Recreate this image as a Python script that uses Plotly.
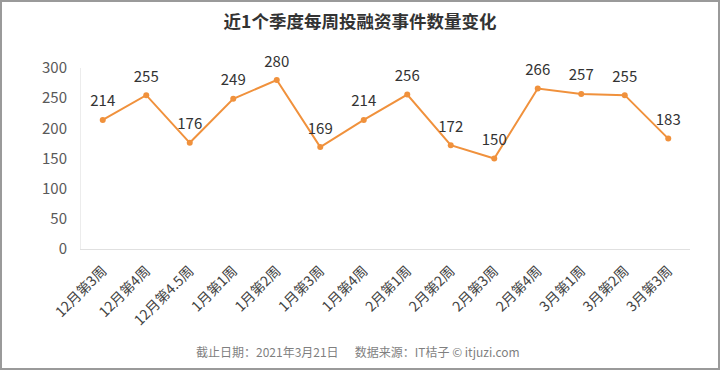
import plotly.graph_objects as go

categories = ["12月第3周", "12月第4周", "12月第4.5周", "1月第1周", "1月第2周", "1月第3周", "1月第4周",
              "2月第1周", "2月第2周", "2月第3周", "2月第4周", "3月第1周", "3月第2周", "3月第3周"]
values = [214, 255, 176, 249, 280, 169, 214, 256, 172, 150, 266, 257, 255, 183]
y_ticks = [0, 50, 100, 150, 200, 250, 300]

W, H = 720, 370
ML, MR, MT, MB = 81, 30, 68, 121
FONT = "Noto Sans CJK SC, Microsoft YaHei, sans-serif"

fig = go.Figure()
fig.add_trace(go.Scatter(
    x=categories, y=values, mode="lines+markers",
    line=dict(color="#F0913C", width=2),
    marker=dict(color="#F0913C", size=6),
    cliponaxis=False, hoverinfo="skip"))
fig.add_trace(go.Scatter(
    x=categories, y=values, mode="markers+text",
    text=[str(v) for v in values], textposition="top center",
    textfont=dict(size=15, color="#333333", family=FONT),
    marker=dict(color="rgba(0,0,0,0)", size=14),
    cliponaxis=False, hoverinfo="skip"))

pw = W - ML - MR
ph = H - MT - MB
fig.add_shape(type="rect", xref="paper", yref="paper",
              x0=-(ML - 1) / pw, x1=1 + (MR - 1) / pw,
              y0=-(MB - 1) / ph, y1=1 + (MT - 1) / ph,
              line=dict(color="#9a9a9a", width=2), layer="below")

fig.update_layout(
    width=W, height=H, margin=dict(l=ML, r=MR, t=MT, b=MB, autoexpand=False),
    paper_bgcolor="white", plot_bgcolor="white", showlegend=False,
    font=dict(family=FONT, color="#595959"),
    title=dict(text="<b>近1个季度每周投融资事件数量变化</b>", x=0.5, xref="container", xanchor="center",
               y=1 - 22 / H, yanchor="middle", font=dict(size=17.5, color="#333333", family=FONT)),
    xaxis=dict(type="category", range=[-0.5, len(categories) - 0.5], automargin=False,
               tickangle=-45, showgrid=False, showline=True, linecolor="#e0e0e0",
               linewidth=1, ticks="outside", ticklen=7, tickcolor="rgba(0,0,0,0)",
               tickfont=dict(size=14, color="#444444", family=FONT)),
    yaxis=dict(range=[0, 300], tickvals=y_ticks, showgrid=False, showline=True, linecolor="#ececec",
               zeroline=False, ticks="outside", ticklen=10, tickcolor="rgba(0,0,0,0)", automargin=False,
               tickfont=dict(size=15, color="#595959", family=FONT)),
    annotations=[dict(text="截止日期：2021年3月21日&nbsp;&nbsp;&nbsp;&nbsp;&nbsp;&nbsp;数据来源：IT桔子 © itjuzi.com",
                      xref="paper", yref="paper", x=(358 - ML) / pw, y=-(351 - (MT + ph)) / ph,
                      xanchor="center", yanchor="middle", showarrow=False,
                      font=dict(size=12, color="#7f7f7f", family=FONT))]
)

fig.write_html("out.html", config={"displayModeBar": False},
               post_script="document.body.style.margin='0';document.body.style.overflow='hidden';")
